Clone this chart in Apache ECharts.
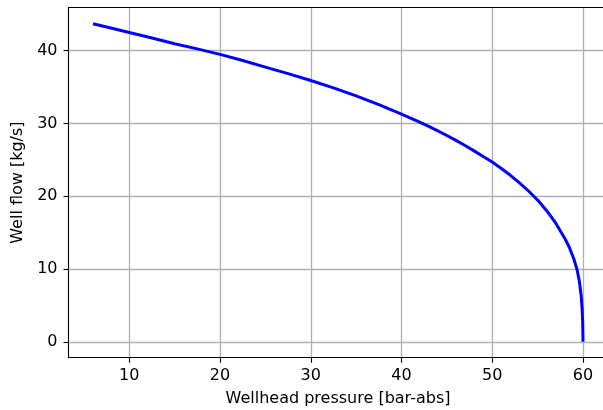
<!DOCTYPE html>
<html>
<head>
<meta charset="utf-8">
<script src="https://cdn.jsdelivr.net/npm/echarts@6/dist/echarts.min.js"></script>
<style>
html,body{margin:0;padding:0;background:#fff;width:603px;height:410px;overflow:hidden;}
#chart{width:608px;height:410px;}
</style>
</head>
<body>
<div id="chart"></div>
<script>
const pressure = [6, 7.5, 10, 12.5, 15, 17.5, 20, 22.5, 25, 27.5, 30, 32.5, 35, 37.5, 40, 41, 42, 43, 44, 45, 46, 47, 48, 49, 50, 51, 52, 53, 54, 55, 56, 57, 58, 58.5, 59, 59.35, 59.6, 59.8, 59.9, 59.97, 60];
const flow     = [43.7, 43.25, 42.5, 41.75, 40.95, 40.25, 39.5, 38.65, 37.75, 36.85, 35.9, 34.9, 33.8, 32.6, 31.3, 30.75, 30.18, 29.6, 28.98, 28.35, 27.67, 26.97, 26.23, 25.47, 24.7, 23.82, 22.88, 21.84, 20.72, 19.47, 18.02, 16.3, 14.2, 12.95, 11.35, 9.9, 8.3, 6.3, 4.6, 2.6, 0];
const xTicks = [10, 20, 30, 40, 50, 60];
const yTicks = [0, 10, 20, 30, 40];
const xName = 'Wellhead pressure [bar-abs]';
const yName = 'Well flow [kg/s]';

const chart = echarts.init(document.getElementById('chart'), null, {renderer: 'canvas'});
const font = 'DejaVu Sans';
const spine = {color: '#000', width: 1.1};
const gridLine = {color: '#b0b0b0', width: 1.3};
chart.setOption({
  animation: false,
  backgroundColor: '#fff',
  grid: {
    left: 68.5, right: 0.5, top: 7.5, bottom: 52.3,
    show: false, containLabel: false, outerBoundsMode: 'none'
  },
  xAxis: [{
    type: 'value', min: 3.3, max: 62.7, position: 'bottom',
    name: xName, nameLocation: 'middle', nameGap: 33,
    nameTextStyle: {fontFamily: font, fontSize: 16, color: '#000'},
    axisLine: {show: true, onZero: false, lineStyle: spine},
    axisTick: {show: true, inside: false, length: 5, customValues: xTicks, lineStyle: spine},
    axisLabel: {customValues: xTicks, margin: 10, fontFamily: font, fontSize: 16, color: '#000'},
    splitLine: {show: true, lineStyle: gridLine}
  }, {
    type: 'value', min: 3.3, max: 62.7, position: 'top',
    axisLine: {show: true, onZero: false, lineStyle: spine},
    axisTick: {show: false}, axisLabel: {show: false}, splitLine: {show: false}
  }],
  yAxis: {
    type: 'value', min: -2.19, max: 45.94,
    name: yName, nameLocation: 'middle', nameGap: 30,
    nameTextStyle: {fontFamily: font, fontSize: 16, color: '#000'},
    axisLine: {show: true, onZero: false, lineStyle: spine},
    axisTick: {show: true, inside: false, length: 5, customValues: yTicks, lineStyle: spine},
    axisLabel: {customValues: yTicks, margin: 11, fontFamily: font, fontSize: 16, color: '#000'},
    splitLine: {show: true, lineStyle: gridLine}
  },
  series: [{
    type: 'line',
    xAxisIndex: 0,
    data: pressure.map((p, i) => [p, flow[i]]),
    smooth: false,
    showSymbol: false,
    lineStyle: {color: '#0000ff', width: 3, join: 'round'},
    itemStyle: {color: '#0000ff'}
  }]
});
</script>
</body>
</html>
